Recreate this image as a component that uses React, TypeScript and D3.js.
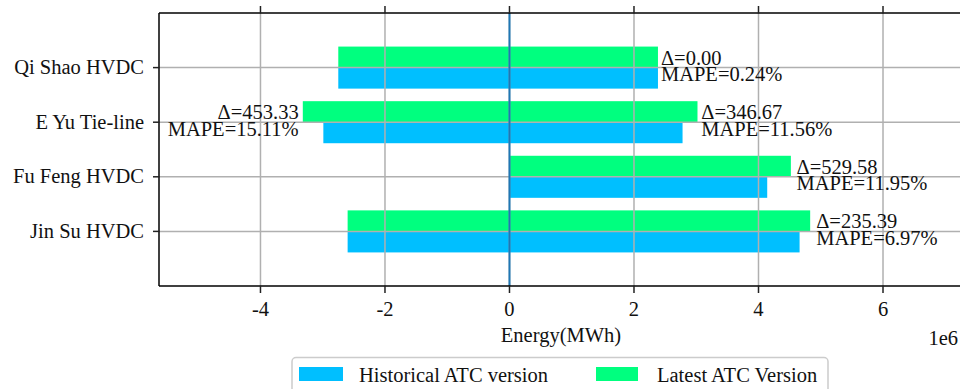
import React from "react";
import * as d3 from "d3";

const width = 960;
const height = 389;
const margin = { top: 13, right: -3, bottom: 103, left: 159 };

// categories from bottom to top
const categories = ["Jin Su HVDC", "Fu Feng HVDC", "E Yu Tie-line", "Qi Shao HVDC"];
// bar extents in MWh
const histMin = [-2.6e6, 0, -2.99e6, -2.75e6];
const histMax = [4.66e6, 4.14e6, 2.78e6, 2.385e6];
const latestMin = [-2.6e6, 0, -3.32e6, -2.75e6];
const latestMax = [4.83e6, 4.52e6, 3.02e6, 2.385e6];
// annotations
const posDelta = ["235.39", "529.58", "346.67", "0.00"];
const posMape = ["6.97", "11.95", "11.56", "0.24"];
const negDelta = [null, null, "453.33", null];
const negMape = [null, null, "15.11", null];

const font = "'Liberation Serif', 'Times New Roman', 'DejaVu Serif', serif";
const fs = 20.5;
const histColor = "#00bfff";
const latestColor = "#00ff7f";
const gridColor = "#b0b0b0";
const txt = { fontFamily: font, fontSize: fs, fill: "#111" };

export default function App() {
  const x = d3.scaleLinear().domain([-5.63e6, 7.285e6]).range([margin.left, width - margin.right]);
  const y = d3.scaleLinear().domain([-1, 4]).range([height - margin.bottom, margin.top]);
  const barH = y(0) - y(0.385);
  const xTicks = x.ticks(6);
  const top = margin.top;
  const bottom = height - margin.bottom;

  return (
    <svg width={width} height={height} style={{ position: "absolute", left: 0, top: 0, display: "block", fontFamily: font }}>
      <rect width={width} height={height} fill="white" />
      {/* bars */}
      {categories.map((c, i) => (
        <g key={c}>
          <rect x={x(latestMin[i])} y={y(i) - barH} width={x(latestMax[i]) - x(latestMin[i])} height={barH} fill={latestColor} />
          <rect x={x(histMin[i])} y={y(i)} width={x(histMax[i]) - x(histMin[i])} height={barH} fill={histColor} />
        </g>
      ))}
      {/* grid above bars */}
      {xTicks.map((t) => (
        <line key={"gx" + t} x1={x(t)} x2={x(t)} y1={top} y2={bottom} stroke={gridColor} strokeWidth={1.5} />
      ))}
      {categories.map((c, i) => (
        <line key={"gy" + c} x1={margin.left} x2={width} y1={y(i)} y2={y(i)} stroke={gridColor} strokeWidth={1.5} />
      ))}
      {/* zero line */}
      <line x1={x(0)} x2={x(0)} y1={top} y2={bottom} stroke="#1f77b4" strokeWidth={2} />
      {/* annotations */}
      {categories.map((c, i) => (
        <g key={"ann" + c}>
          <text style={txt} x={x(latestMax[i] * 1.02)} y={y(i) - 3}>{"Δ=" + posDelta[i]}</text>
          <text style={txt} x={x(latestMax[i] * 1.02)} y={y(i) + 13.5}>{"MAPE=" + posMape[i] + "%"}</text>
          {negDelta[i] && (
            <text style={txt} x={x(latestMin[i] * 1.02)} y={y(i) - 3} textAnchor="end">{"Δ=" + negDelta[i]}</text>
          )}
          {negMape[i] && (
            <text style={txt} x={x(latestMin[i] * 1.02)} y={y(i) + 14} textAnchor="end">{"MAPE=" + negMape[i] + "%"}</text>
          )}
        </g>
      ))}
      {/* spines */}
      <line x1={margin.left} x2={margin.left} y1={top} y2={bottom} stroke="black" strokeWidth={1.5} />
      <line x1={margin.left} x2={width} y1={top} y2={top} stroke="black" strokeWidth={1.5} />
      <line x1={margin.left} x2={width} y1={bottom} y2={bottom} stroke="black" strokeWidth={1.5} />
      {/* x ticks */}
      {xTicks.map((t) => (
        <g key={"tx" + t}>
          <line x1={x(t)} x2={x(t)} y1={bottom} y2={bottom + 7} stroke="#222" strokeWidth={1.5} />
          <line x1={x(t)} x2={x(t)} y1={top - 7} y2={top} stroke="#222" strokeWidth={1.5} />
          <text style={txt} x={x(t)} y={bottom + 30} textAnchor="middle">{String(t / 1e6)}</text>
        </g>
      ))}
      {/* y ticks */}
      {categories.map((c, i) => (
        <g key={"ty" + c}>
          <line x1={margin.left - 6} x2={margin.left} y1={y(i)} y2={y(i)} stroke="#222" strokeWidth={1.5} />
          <text style={txt} x={margin.left - 15} y={y(i) + 6.5} textAnchor="end">{c}</text>
        </g>
      ))}
      <text style={txt} x={(margin.left + width - margin.right) / 2} y={342} textAnchor="middle">Energy(MWh)</text>
      <text style={txt} x={958} y={345} textAnchor="end">1e6</text>
      {/* legend */}
      <rect x={292} y={357.5} width={536} height={50} rx={4} fill="white" stroke="#cccccc" strokeWidth={1.5} />
      <rect x={299} y={367} width={44} height={14} fill={histColor} />
      <text style={txt} x={359} y={382}>Historical ATC version</text>
      <rect x={596} y={367} width={42} height={14} fill={latestColor} />
      <text style={txt} x={657} y={382}>Latest ATC Version</text>
    </svg>
  );
}
